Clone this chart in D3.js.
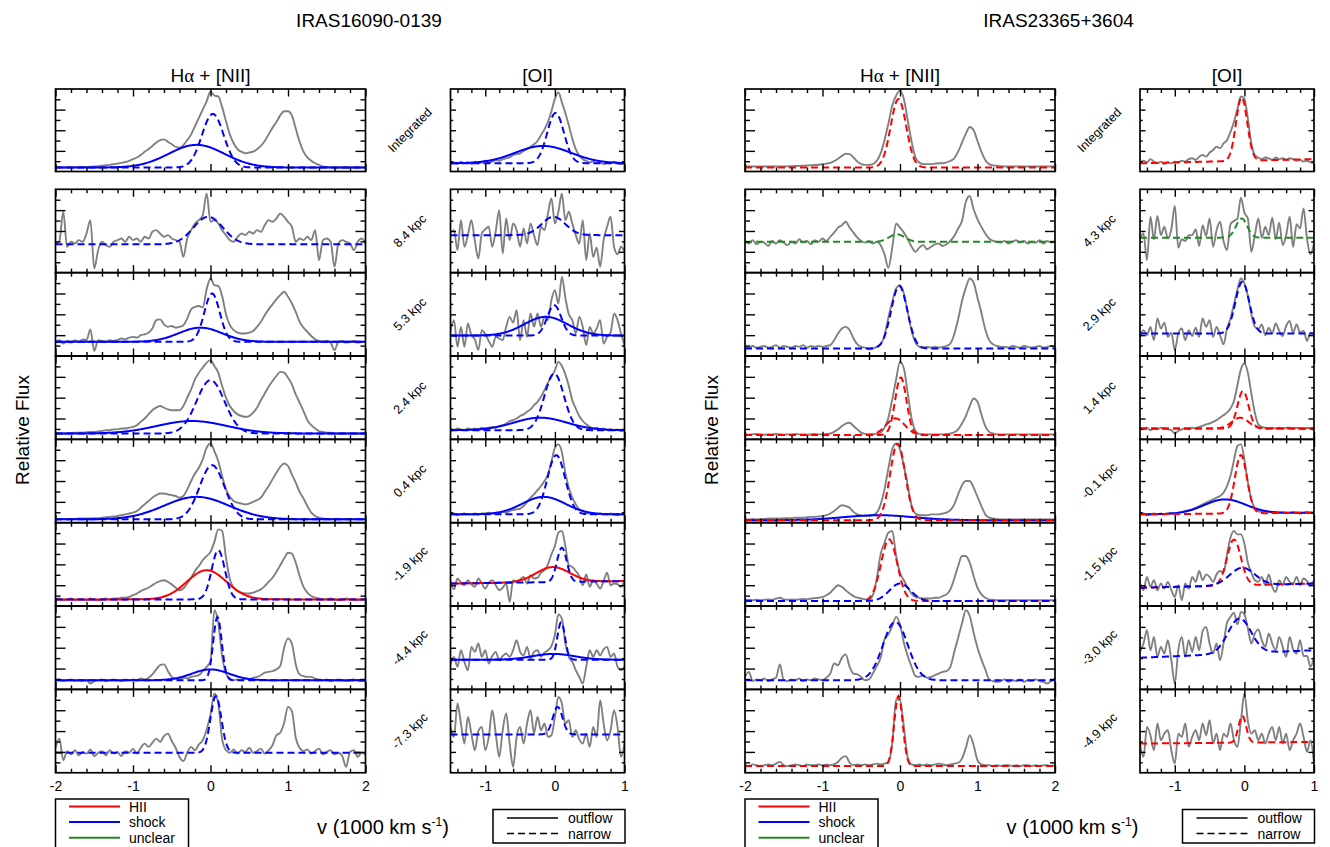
<!DOCTYPE html>
<html>
<head>
<meta charset="utf-8">
<script src="https://cdn.jsdelivr.net/npm/d3@7"></script>
<style>
  body { margin: 0; background: #fff; }
  svg { display: block; }
  text { font-family: "Liberation Sans", Arial, Helvetica, sans-serif; fill: #000; }
</style>
</head>
<body>
<svg id="fig" width="1330" height="847"></svg>
<script>
// ---------------------------------------------------------------------------
// Velocity grids (units of 1000 km/s)
// ---------------------------------------------------------------------------
const velHa = [-2.00,-1.95,-1.90,-1.85,-1.80,-1.75,-1.70,-1.65,-1.60,-1.55,
  -1.50,-1.45,-1.40,-1.35,-1.30,-1.25,-1.20,-1.15,-1.10,-1.05,
  -1.00,-0.95,-0.90,-0.85,-0.80,-0.75,-0.70,-0.65,-0.60,-0.55,
  -0.50,-0.45,-0.40,-0.35,-0.30,-0.25,-0.20,-0.15,-0.10,-0.05,
  0.00,0.05,0.10,0.15,0.20,0.25,0.30,0.35,0.40,0.45,
  0.50,0.55,0.60,0.65,0.70,0.75,0.80,0.85,0.90,0.95,
  1.00,1.05,1.10,1.15,1.20,1.25,1.30,1.35,1.40,1.45,
  1.50,1.55,1.60,1.65,1.70,1.75,1.80,1.85,1.90,1.95,2.00];
const velOI = [-1.50,-1.45,-1.40,-1.35,-1.30,-1.25,-1.20,-1.15,-1.10,-1.05,
  -1.00,-0.95,-0.90,-0.85,-0.80,-0.75,-0.70,-0.65,-0.60,-0.55,
  -0.50,-0.45,-0.40,-0.35,-0.30,-0.25,-0.20,-0.15,-0.10,-0.05,
  0.00,0.05,0.10,0.15,0.20,0.25,0.30,0.35,0.40,0.45,
  0.50,0.55,0.60,0.65,0.70,0.75,0.80,0.85,0.90,0.95,1.00];

// Axis ticks
const haTicks = [-2, -1, 0, 1, 2];
const haMinor = [-1.8,-1.6,-1.4,-1.2,-0.8,-0.6,-0.4,-0.2,0.2,0.4,0.6,0.8,1.2,1.4,1.6,1.8];
const oiTicks = [-1, 0, 1];
const oiMinor = [-1.4,-1.2,-0.8,-0.6,-0.4,-0.2,0.2,0.4,0.6,0.8];
const fluxMajor = [0.25, 0.5, 0.75];
const fluxMinor = [0.125, 0.375, 0.625, 0.875];

// Row labels (projected distance along the slit)
const rowsA = ["Integrated","8.4 kpc","5.3 kpc","2.4 kpc","0.4 kpc","-1.9 kpc","-4.4 kpc","-7.3 kpc"];
const rowsB = ["Integrated","4.3 kpc","2.9 kpc","1.4 kpc","-0.1 kpc","-1.5 kpc","-3.0 kpc","-4.9 kpc"];

// ---------------------------------------------------------------------------
// IRAS16090-0139 : relative flux, Halpha + [NII] window
// ---------------------------------------------------------------------------
const a_ha_int = [.048,.05,.048,.05,.05,.05,.052,.055,.055,.058,
  .06,.065,.07,.075,.08,.09,.095,.105,.115,.13,
  .15,.17,.20,.24,.27,.31,.35,.38,.39,.36,
  .33,.30,.29,.32,.38,.45,.55,.65,.75,.85,
  .97,.92,.91,.78,.61,.45,.34,.27,.24,.22,
  .23,.24,.27,.31,.37,.45,.53,.60,.68,.73,
  .73,.68,.52,.36,.24,.17,.13,.10,.08,.06,
  .055,.05,.05,.048,.048,.048,.048,.048,.048,.048,.048];
const a_ha_84 = [.35,.38,.73,.31,.37,.35,.39,.37,.47,.63,
  .05,.27,.37,.33,.31,.37,.39,.41,.37,.43,
  .39,.41,.37,.43,.41,.49,.51,.47,.43,.45,
  .41,.39,.37,.19,.41,.51,.59,.63,.69,.95,
  .61,.63,.59,.51,.45,.39,.37,.43,.47,.45,
  .49,.47,.51,.49,.57,.63,.61,.65,.71,.67,
  .61,.55,.37,.41,.39,.43,.39,.51,.15,.39,
  .41,.37,.07,.35,.39,.37,.35,.27,.37,.41,.35];
const a_ha_53 = [.17,.19,.15,.18,.16,.19,.17,.20,.19,.32,
  .06,.19,.18,.17,.19,.18,.19,.21,.20,.22,
  .23,.22,.25,.26,.28,.33,.43,.44,.38,.35,
  .36,.34,.35,.37,.45,.56,.59,.60,.58,.80,
  .93,.85,.84,.72,.50,.37,.31,.28,.27,.27,
  .28,.30,.35,.41,.49,.56,.62,.68,.73,.77,
  .71,.63,.53,.41,.34,.29,.24,.20,.18,.17,
  .18,.16,.07,.17,.18,.16,.17,.18,.16,.17,.17];
const a_ha_24 = [.07,.07,.07,.07,.075,.08,.08,.08,.085,.09,
  .09,.095,.10,.11,.11,.12,.12,.13,.13,.14,
  .15,.17,.21,.25,.30,.35,.38,.40,.38,.36,
  .35,.35,.35,.40,.50,.60,.72,.80,.86,.92,
  .95,.88,.80,.64,.50,.40,.34,.30,.28,.27,
  .28,.32,.38,.47,.55,.63,.70,.76,.81,.80,
  .74,.66,.54,.44,.34,.23,.17,.13,.10,.09,
  .08,.08,.07,.07,.07,.07,.07,.07,.07,.07,.07];
const a_ha_04 = [.04,.04,.045,.04,.045,.045,.05,.05,.05,.05,
  .055,.055,.06,.065,.07,.075,.08,.09,.10,.11,
  .12,.14,.18,.22,.26,.30,.33,.35,.35,.34,
  .33,.32,.30,.32,.40,.50,.59,.66,.76,.90,
  .95,.86,.74,.56,.40,.31,.26,.24,.23,.22,
  .23,.25,.27,.30,.37,.44,.52,.60,.67,.71,
  .68,.58,.48,.37,.29,.20,.12,.08,.06,.05,
  .045,.04,.04,.04,.04,.04,.04,.04,.04,.04,.04];
const a_ha_m19 = [.08,.09,.07,.08,.09,.07,.08,.08,.07,.09,
  .08,.07,.08,.09,.08,.09,.09,.10,.10,.11,
  .13,.15,.18,.20,.22,.25,.28,.30,.31,.29,
  .26,.22,.19,.21,.27,.34,.42,.48,.55,.60,
  .65,.77,.92,.90,.58,.32,.22,.18,.16,.15,
  .15,.16,.18,.20,.24,.29,.34,.41,.49,.57,
  .64,.63,.52,.36,.23,.16,.12,.10,.09,.08,
  .08,.09,.08,.07,.08,.09,.08,.08,.07,.08,.08];
const a_ha_m44 = [.11,.12,.10,.11,.12,.10,.11,.10,.11,.07,
  .10,.11,.12,.10,.11,.12,.11,.10,.12,.11,
  .12,.11,.13,.12,.14,.18,.24,.29,.30,.22,
  .15,.13,.12,.14,.13,.15,.16,.17,.22,.27,
  .34,.95,.80,.40,.19,.13,.11,.12,.11,.13,
  .12,.14,.15,.17,.20,.21,.22,.24,.28,.50,
  .61,.55,.30,.18,.16,.15,.15,.13,.12,.11,
  .12,.10,.11,.12,.11,.10,.11,.12,.11,.10,.11];
const a_ha_m73 = [.30,.41,.15,.26,.22,.27,.21,.25,.23,.28,
  .20,.24,.26,.21,.27,.23,.25,.20,.26,.24,
  .29,.23,.30,.35,.31,.36,.41,.37,.44,.47,
  .38,.30,.19,.14,.24,.31,.27,.34,.39,.52,
  .70,.95,.83,.40,.27,.24,.28,.23,.27,.25,
  .30,.24,.26,.29,.23,.27,.33,.45,.48,.60,
  .79,.74,.42,.30,.26,.28,.23,.26,.29,.22,
  .25,.27,.22,.24,.20,.07,.25,.27,.19,.24,.22];

// IRAS16090-0139 : relative flux, [OI] window
const a_oi_int = [.10,.11,.09,.12,.10,.11,.09,.12,.10,.11,
  .13,.11,.12,.14,.13,.15,.16,.17,.20,.21,
  .22,.25,.27,.30,.33,.37,.44,.51,.60,.73,
  .88,.96,.84,.71,.56,.40,.27,.19,.15,.13,
  .11,.12,.10,.11,.09,.11,.10,.12,.10,.09,.10];
const a_oi_84 = [.48,.51,.27,.63,.31,.45,.63,.38,.17,.47,
  .52,.55,.31,.50,.75,.23,.65,.39,.59,.51,
  .31,.53,.35,.59,.45,.33,.55,.51,.71,.89,
  .59,.73,.95,.63,.73,.59,.45,.35,.63,.15,
  .47,.19,.30,.07,.39,.55,.67,.31,.22,.31,.25];
const a_oi_53 = [.30,.43,.11,.35,.11,.39,.25,.20,.07,.31,
  .26,.18,.11,.23,.21,.19,.35,.47,.40,.55,
  .19,.43,.23,.51,.35,.51,.35,.47,.43,.67,
  .79,.63,.95,.70,.50,.43,.27,.47,.35,.13,
  .35,.27,.33,.43,.15,.23,.28,.51,.43,.27,.13];
const a_oi_24 = [.12,.11,.13,.12,.11,.13,.12,.13,.12,.14,
  .13,.14,.15,.14,.16,.17,.19,.22,.23,.25,
  .28,.30,.33,.36,.41,.45,.51,.59,.68,.75,
  .83,.93,.88,.78,.64,.47,.37,.28,.22,.18,
  .15,.13,.14,.12,.13,.11,.12,.11,.12,.10,.11];
const a_oi_04 = [.10,.11,.09,.10,.11,.10,.10,.11,.10,.11,
  .11,.12,.11,.12,.12,.13,.12,.14,.15,.16,
  .17,.20,.25,.30,.34,.39,.44,.50,.58,.73,
  .90,.94,.85,.60,.42,.30,.22,.16,.14,.12,
  .11,.11,.10,.11,.10,.10,.11,.10,.09,.10,.10];
const a_oi_m19 = [.30,.20,.33,.28,.25,.31,.26,.23,.33,.27,
  .21,.28,.31,.25,.19,.22,.27,.05,.31,.29,
  .32,.35,.27,.37,.33,.34,.40,.43,.50,.62,
  .72,.88,.90,.72,.49,.47,.42,.36,.25,.38,
  .23,.31,.27,.21,.30,.40,.25,.27,.26,.23,.31];
const a_oi_m44 = [.30,.39,.27,.47,.33,.23,.51,.45,.55,.39,
  .47,.31,.40,.45,.35,.40,.43,.39,.47,.59,
  .45,.41,.51,.37,.45,.47,.39,.44,.47,.52,
  .65,.90,.85,.55,.39,.33,.23,.15,.07,.27,
  .47,.39,.47,.41,.48,.51,.39,.43,.27,.23,.27];
const a_oi_m73 = [.55,.43,.83,.59,.35,.67,.47,.27,.50,.55,
  .27,.43,.75,.47,.19,.51,.71,.35,.07,.43,
  .55,.35,.59,.75,.47,.67,.51,.59,.43,.45,
  .67,.91,.83,.59,.63,.43,.51,.40,.35,.47,
  .31,.55,.43,.87,.59,.39,.51,.75,.55,.19,.35];

// ---------------------------------------------------------------------------
// IRAS23365+3604 : relative flux, Halpha + [NII] window
// ---------------------------------------------------------------------------
const b_ha_int = [.06,.06,.06,.06,.06,.06,.06,.06,.06,.06,
  .06,.062,.064,.066,.068,.07,.072,.075,.078,.082,
  .088,.095,.105,.125,.155,.19,.215,.21,.17,.12,
  .09,.08,.08,.09,.13,.22,.38,.58,.80,.92,
  .98,.88,.62,.36,.17,.11,.09,.09,.09,.095,
  .10,.10,.11,.13,.16,.24,.35,.46,.54,.50,
  .37,.24,.14,.09,.075,.07,.065,.06,.06,.06,
  .06,.06,.06,.06,.06,.06,.06,.06,.06,.06,.06];
const b_ha_43 = [.37,.35,.39,.34,.37,.36,.32,.38,.35,.39,
  .36,.33,.37,.35,.40,.36,.38,.34,.39,.37,
  .41,.38,.43,.48,.54,.57,.61,.54,.48,.42,
  .38,.36,.38,.35,.37,.33,.22,.06,.30,.59,
  .54,.48,.40,.31,.25,.30,.33,.28,.31,.34,
  .35,.32,.34,.38,.44,.53,.62,.85,.92,.76,
  .64,.55,.47,.41,.38,.37,.36,.38,.35,.37,
  .39,.36,.38,.35,.37,.36,.39,.35,.38,.36,.37];
const b_ha_29 = [.11,.10,.12,.10,.11,.12,.10,.11,.13,.10,
  .12,.11,.10,.12,.11,.13,.10,.12,.11,.12,
  .11,.12,.13,.19,.27,.33,.35,.31,.21,.14,
  .11,.10,.08,.09,.11,.14,.25,.46,.65,.81,
  .85,.75,.53,.30,.16,.11,.10,.11,.10,.11,
  .10,.11,.12,.15,.26,.44,.66,.82,.93,.88,
  .70,.52,.32,.19,.14,.12,.11,.11,.10,.12,
  .11,.10,.12,.11,.10,.11,.12,.10,.11,.12,.11];
const b_ha_14 = [.06,.055,.06,.065,.06,.055,.06,.06,.065,.06,
  .055,.06,.06,.065,.06,.06,.055,.06,.065,.06,
  .06,.065,.07,.09,.12,.16,.19,.20,.16,.12,
  .08,.065,.06,.06,.065,.08,.14,.26,.48,.72,
  .93,.85,.55,.25,.10,.065,.06,.06,.06,.06,
  .06,.06,.065,.07,.085,.12,.19,.28,.40,.49,
  .45,.30,.16,.09,.07,.06,.06,.06,.06,.06,
  .06,.06,.06,.06,.06,.06,.06,.06,.06,.06,.06];
const b_ha_m01 = [.04,.04,.045,.04,.045,.045,.05,.05,.05,.05,
  .055,.055,.055,.06,.06,.06,.065,.07,.07,.075,
  .08,.09,.11,.14,.18,.21,.20,.18,.13,.10,
  .085,.08,.08,.09,.12,.22,.40,.65,.88,.95,
  .88,.68,.45,.20,.11,.09,.09,.09,.10,.10,
  .10,.11,.12,.15,.22,.34,.45,.50,.50,.42,
  .31,.20,.10,.06,.05,.045,.04,.04,.04,.04,
  .04,.04,.04,.04,.04,.04,.04,.04,.04,.04,.04];
const b_ha_m15 = [.07,.075,.07,.075,.07,.075,.08,.075,.09,.10,
  .08,.075,.08,.075,.08,.085,.08,.09,.095,.10,
  .11,.13,.16,.21,.25,.23,.19,.15,.12,.10,
  .09,.08,.075,.13,.33,.62,.76,.88,.90,.60,
  .40,.31,.22,.15,.11,.10,.09,.09,.09,.10,
  .10,.12,.14,.20,.33,.48,.60,.60,.52,.36,
  .22,.14,.10,.08,.075,.07,.07,.07,.07,.07,
  .07,.07,.07,.07,.07,.07,.07,.07,.07,.07,.07];
const b_ha_m30 = [.15,.21,.10,.12,.11,.13,.10,.12,.14,.30,
  .11,.10,.12,.11,.13,.10,.12,.11,.13,.12,
  .11,.14,.19,.31,.29,.38,.42,.27,.19,.18,
  .15,.11,.12,.19,.28,.38,.60,.66,.76,.87,
  .78,.56,.40,.27,.16,.15,.17,.14,.15,.17,
  .19,.21,.22,.27,.45,.62,.79,.95,.88,.68,
  .50,.36,.24,.12,.10,.09,.10,.12,.09,.11,
  .10,.12,.09,.11,.10,.12,.10,.09,.07,.10,.13];
const b_ha_m49 = [.09,.08,.10,.09,.08,.09,.10,.09,.11,.13,
  .09,.08,.09,.10,.09,.08,.10,.09,.09,.10,
  .09,.10,.09,.10,.13,.18,.20,.12,.09,.10,
  .09,.10,.09,.10,.11,.10,.11,.13,.35,.88,
  .87,.55,.18,.10,.09,.10,.09,.10,.09,.10,
  .11,.10,.09,.10,.11,.12,.17,.30,.45,.33,
  .15,.10,.09,.09,.08,.09,.08,.09,.09,.08,
  .09,.08,.09,.09,.08,.09,.08,.09,.09,.08,.09];

// IRAS23365+3604 : relative flux, [OI] window
const b_oi_int = [.10,.13,.11,.15,.12,.10,.12,.09,.11,.10,
  .12,.11,.13,.12,.15,.16,.14,.18,.20,.18,
  .23,.26,.30,.28,.34,.38,.48,.60,.76,.91,
  .88,.64,.34,.20,.17,.15,.17,.16,.14,.17,
  .15,.16,.14,.16,.15,.13,.14,.12,.13,.11,.10];
const b_oi_43 = [.40,.47,.15,.67,.40,.68,.45,.55,.41,.52,
  .80,.30,.40,.38,.45,.45,.52,.32,.57,.44,
  .65,.31,.51,.61,.38,.27,.58,.62,.65,.90,
  .72,.65,.25,.45,.65,.42,.55,.45,.66,.40,
  .60,.33,.45,.67,.31,.58,.53,.77,.40,.22,.35];
const b_oi_29 = [.22,.31,.25,.35,.19,.45,.33,.40,.23,.28,
  .07,.27,.33,.19,.31,.24,.34,.23,.45,.35,
  .43,.23,.35,.25,.14,.33,.45,.62,.80,.93,
  .87,.72,.50,.35,.32,.38,.25,.34,.27,.39,
  .30,.24,.36,.42,.28,.38,.28,.30,.18,.28,.27];
const b_oi_14 = [.13,.12,.14,.11,.13,.12,.14,.13,.12,.11,
  .07,.10,.12,.13,.12,.14,.13,.15,.16,.18,
  .19,.21,.23,.26,.29,.32,.37,.46,.65,.84,
  .91,.80,.55,.32,.18,.15,.14,.13,.14,.13,
  .14,.13,.14,.14,.13,.14,.13,.12,.14,.13,.14];
const b_oi_m01 = [.10,.11,.09,.10,.11,.10,.11,.10,.11,.12,
  .11,.12,.13,.14,.15,.16,.18,.20,.22,.24,
  .26,.28,.30,.32,.36,.44,.56,.75,.92,.94,
  .76,.48,.28,.17,.14,.13,.14,.13,.12,.13,
  .12,.13,.12,.12,.13,.12,.11,.12,.13,.12,.12];
const b_oi_m15 = [.28,.19,.35,.23,.31,.19,.27,.21,.29,.19,
  .11,.25,.07,.27,.21,.35,.29,.42,.31,.38,
  .35,.29,.38,.42,.40,.62,.82,.90,.86,.86,
  .75,.52,.40,.31,.29,.35,.25,.38,.23,.17,
  .31,.25,.35,.29,.27,.35,.25,.33,.30,.25,.31];
const b_oi_m30 = [.45,.55,.71,.47,.63,.39,.51,.43,.59,.35,
  .07,.47,.63,.39,.59,.45,.63,.47,.70,.75,
  .55,.43,.55,.35,.55,.80,.87,.92,.78,.93,
  .90,.73,.55,.67,.72,.59,.51,.67,.55,.47,
  .63,.51,.39,.63,.48,.43,.59,.40,.40,.27,.39];
const b_oi_m49 = [.35,.19,.55,.45,.27,.59,.39,.47,.51,.27,
  .11,.47,.43,.59,.31,.43,.51,.39,.59,.45,
  .63,.35,.47,.27,.47,.43,.59,.39,.31,.62,
  .95,.62,.47,.51,.39,.47,.35,.47,.55,.39,
  .55,.35,.47,.27,.39,.47,.59,.43,.25,.39,.11];

// ---------------------------------------------------------------------------
// Gaussian fit components:
// [excitation class, component, continuum at left edge, continuum at right edge,
//  amplitude, centre (1000 km/s), sigma (1000 km/s)]
// ---------------------------------------------------------------------------
const fa_ha_int = [["shock","outflow",.048,.048,.275,-.18,.36],["shock","narrow",.048,.048,.65,.03,.14]];
const fa_ha_84  = [["shock","narrow",.34,.34,.33,-.03,.19]];
const fa_ha_53  = [["shock","outflow",.17,.17,.17,-.13,.28],["shock","narrow",.17,.17,.58,.02,.10]];
const fa_ha_24  = [["shock","outflow",.07,.07,.15,-.24,.45],["shock","narrow",.07,.07,.64,0,.18]];
const fa_ha_04  = [["shock","outflow",.04,.04,.27,-.18,.42],["shock","narrow",.04,.04,.65,.02,.16]];
const fa_ha_m19 = [["HII","outflow",.08,.08,.35,-.05,.255],["shock","narrow",.08,.08,.59,.10,.085]];
const fa_ha_m44 = [["shock","outflow",.11,.11,.13,0,.24],["shock","narrow",.11,.11,.76,.09,.055]];
const fa_ha_m73 = [["shock","narrow",.24,.24,.68,.07,.07]];

const fa_oi_int = [["shock","outflow",.10,.10,.21,-.17,.40],["shock","narrow",.10,.10,.61,.01,.12]];
const fa_oi_84  = [["shock","narrow",.45,.45,.22,-.02,.17]];
const fa_oi_53  = [["shock","outflow",.245,.245,.225,-.13,.31],["shock","narrow",.245,.245,.365,-.01,.10]];
const fa_oi_24  = [["shock","outflow",.11,.11,.15,-.21,.38],["shock","narrow",.11,.11,.68,-.01,.14]];
const fa_oi_04  = [["shock","outflow",.10,.10,.21,-.16,.31],["shock","narrow",.10,.10,.71,.02,.128]];
const fa_oi_m19 = [["HII","outflow",.27,.30,.18,-.03,.24],["shock","narrow",.27,.30,.41,.10,.07]];
const fa_oi_m44 = [["shock","outflow",.356,.356,.07,-.02,.30],["shock","narrow",.356,.356,.45,.09,.055]];
const fa_oi_m73 = [["shock","narrow",.46,.46,.33,.04,.07]];

const fb_ha_int = [["HII","narrow",.048,.048,.83,-.02,.10]];
const fb_ha_43  = [["unclear","narrow",.37,.37,.09,-.04,.10]];
const fb_ha_29  = [["shock","narrow",.09,.09,.75,-.01,.105]];
const fb_ha_14  = [["HII","narrow",.052,.052,.69,.01,.073],["HII","narrow",.052,.052,.20,-.06,.12]];
const fb_ha_m01 = [["shock","outflow",.03,.03,.06,-.28,.45],["HII","narrow",.03,.03,.92,-.03,.097]];
const fb_ha_m15 = [["HII","narrow",.06,.06,.74,-.14,.105],["shock","narrow",.06,.06,.21,0,.135]];
const fb_ha_m30 = [["shock","narrow",.11,.11,.70,-.06,.16]];
const fb_ha_m49 = [["HII","narrow",.08,.08,.84,-.02,.055]];

const fb_oi_int = [["HII","narrow",.10,.15,.77,-.04,.08]];
const fb_oi_43  = [["unclear","narrow",.42,.42,.23,-.04,.08]];
const fb_oi_29  = [["shock","narrow",.27,.27,.62,-.03,.10]];
const fb_oi_14  = [["HII","narrow",.13,.13,.45,-.02,.08],["HII","narrow",.13,.13,.13,-.06,.12]];
const fb_oi_m01 = [["shock","outflow",.10,.12,.17,-.28,.30],["HII","narrow",.10,.12,.70,-.05,.087]];
const fb_oi_m15 = [["HII","narrow",.22,.27,.55,-.15,.10],["shock","narrow",.22,.27,.21,-.03,.18]];
const fb_oi_m30 = [["shock","narrow",.38,.47,.42,-.07,.165]];
const fb_oi_m49 = [["HII","narrow",.35,.37,.32,-.03,.055]];

// ---------------------------------------------------------------------------
// Figure assembly
// ---------------------------------------------------------------------------
const galaxies = [
  { name: "IRAS16090-0139", rows: rowsA,
    ha: [a_ha_int,a_ha_84,a_ha_53,a_ha_24,a_ha_04,a_ha_m19,a_ha_m44,a_ha_m73],
    oi: [a_oi_int,a_oi_84,a_oi_53,a_oi_24,a_oi_04,a_oi_m19,a_oi_m44,a_oi_m73],
    haFit: [fa_ha_int,fa_ha_84,fa_ha_53,fa_ha_24,fa_ha_04,fa_ha_m19,fa_ha_m44,fa_ha_m73],
    oiFit: [fa_oi_int,fa_oi_84,fa_oi_53,fa_oi_24,fa_oi_04,fa_oi_m19,fa_oi_m44,fa_oi_m73] },
  { name: "IRAS23365+3604", rows: rowsB,
    ha: [b_ha_int,b_ha_43,b_ha_29,b_ha_14,b_ha_m01,b_ha_m15,b_ha_m30,b_ha_m49],
    oi: [b_oi_int,b_oi_43,b_oi_29,b_oi_14,b_oi_m01,b_oi_m15,b_oi_m30,b_oi_m49],
    haFit: [fb_ha_int,fb_ha_43,fb_ha_29,fb_ha_14,fb_ha_m01,fb_ha_m15,fb_ha_m30,fb_ha_m49],
    oiFit: [fb_oi_int,fb_oi_43,fb_oi_29,fb_oi_14,fb_oi_m01,fb_oi_m15,fb_oi_m30,fb_oi_m49] }
];

const classColor = { HII: "#ff0000", shock: "#0000ff", unclear: "#228b22" };
const legendClasses = ["HII", "shock", "unclear"];
const legendKinds = ["outflow", "narrow"];

const L = {
  blockDx: 689.5,
  ha: [55.5, 365.5],
  oi: [450.5, 624.5],
  intTop: 89, intBot: 171.5,
  stackTop: 189.3, rowH: 83.35,
  labelX: 410
};

const svg = d3.select("#fig");
const fmtTick = d => (d < 0 ? "-" : "") + Math.abs(d);
let clipCount = 0;

function rowSpan(i) {
  if (i === 0) return [L.intTop, L.intBot];
  const t = L.stackTop + (i - 1) * L.rowH;
  return [t, t + L.rowH];
}

function drawAxis(g, axis, tx, ty) {
  const a = g.append("g").attr("transform", `translate(${tx},${ty})`).call(axis);
  a.select(".domain").remove();
  a.selectAll("line").attr("stroke", "#000").attr("stroke-width", 1.4);
  return a;
}

function drawPanel(g, xr, yr, domain, vel, flux, comps, major, minor, showLabels) {
  const x = d3.scaleLinear().domain(domain).range(xr);
  const y = d3.scaleLinear().domain([0, 1]).range([yr[1], yr[0]]);
  const w = xr[1] - xr[0], h = yr[1] - yr[0];

  const id = "clip" + (clipCount++);
  g.append("clipPath").attr("id", id).append("rect")
    .attr("x", xr[0]).attr("y", yr[0]).attr("width", w).attr("height", h);
  const body = g.append("g").attr("clip-path", `url(#${id})`);

  // observed spectrum
  body.append("path")
    .datum(d3.zip(vel, flux))
    .attr("fill", "none").attr("stroke", "#808080").attr("stroke-width", 1.9)
    .attr("stroke-linejoin", "round")
    .attr("d", d3.line().x(d => x(d[0])).y(d => y(d[1])).curve(d3.curveMonotoneX));

  // fitted Gaussian components (outflows beneath, narrow components on top)
  const ordered = comps.slice().sort((a, b) => (a[1] === "outflow" ? 0 : 1) - (b[1] === "outflow" ? 0 : 1));
  const nFine = 400;
  const vFine = d3.range(nFine + 1).map(i => domain[0] + (domain[1] - domain[0]) * i / nFine);
  ordered.forEach(c => {
    const [cls, kind, b0, b1, amp, mu, sig] = c;
    const model = v => b0 + (b1 - b0) * (v - domain[0]) / (domain[1] - domain[0]) +
      amp * Math.exp(-0.5 * ((v - mu) / sig) ** 2);
    body.append("path")
      .datum(vFine)
      .attr("fill", "none").attr("stroke", classColor[cls]).attr("stroke-width", 2)
      .attr("stroke-dasharray", kind === "narrow" ? "7,4" : null)
      .attr("d", d3.line().x(v => x(v)).y(v => y(model(v))));
  });

  // ticks pointing inward on all four sides
  const yMaj = w > 250 ? 10 : 5.5, yMin = yMaj / 2;
  drawAxis(g, d3.axisBottom(x).tickValues(minor).tickSize(-4).tickFormat(""), 0, yr[1]);
  const bot = drawAxis(g, d3.axisBottom(x).tickValues(major).tickSize(-7.5).tickPadding(8)
    .tickFormat(showLabels ? fmtTick : ""), 0, yr[1]);
  bot.attr("font-size", 14).attr("font-family", null);
  drawAxis(g, d3.axisTop(x).tickValues(minor).tickSize(-4).tickFormat(""), 0, yr[0]);
  drawAxis(g, d3.axisTop(x).tickValues(major).tickSize(-7.5).tickFormat(""), 0, yr[0]);
  drawAxis(g, d3.axisLeft(y).tickValues(fluxMinor).tickSize(-yMin).tickFormat(""), xr[0], 0);
  drawAxis(g, d3.axisLeft(y).tickValues(fluxMajor).tickSize(-yMaj).tickFormat(""), xr[0], 0);
  drawAxis(g, d3.axisRight(y).tickValues(fluxMinor).tickSize(-yMin).tickFormat(""), xr[1], 0);
  drawAxis(g, d3.axisRight(y).tickValues(fluxMajor).tickSize(-yMaj).tickFormat(""), xr[1], 0);

  g.append("rect").attr("x", xr[0]).attr("y", yr[0]).attr("width", w).attr("height", h)
    .attr("fill", "none").attr("stroke", "#000").attr("stroke-width", 1.7);
}

galaxies.forEach((gal, gi) => {
  const dx = gi * L.blockDx;
  const g = svg.append("g");
  const haX = [L.ha[0] + dx, L.ha[1] + dx];
  const oiX = [L.oi[0] + dx, L.oi[1] + dx];

  // object name
  g.append("text").attr("x", 369 + dx).attr("y", 27)
    .attr("text-anchor", "middle").attr("font-size", 19).text(gal.name);

  // window titles
  const haTitle = g.append("text").attr("x", (haX[0] + haX[1]) / 2).attr("y", 82)
    .attr("text-anchor", "middle").attr("font-size", 19);
  haTitle.append("tspan").text("H");
  haTitle.append("tspan").attr("font-family", "'Liberation Serif', 'DejaVu Serif', serif").text("α");
  haTitle.append("tspan").text(" + [NII]");
  g.append("text").attr("x", (oiX[0] + oiX[1]) / 2).attr("y", 82)
    .attr("text-anchor", "middle").attr("font-size", 19).text("[OI]");

  gal.rows.forEach((label, i) => {
    const yr = rowSpan(i);
    const last = i === gal.rows.length - 1;
    drawPanel(g, haX, yr, [-2, 2], velHa, gal.ha[i], gal.haFit[i], haTicks, haMinor, last);
    drawPanel(g, oiX, yr, [-1.5, 1], velOI, gal.oi[i], gal.oiFit[i], oiTicks, oiMinor, last);
    g.append("text")
      .attr("transform", `translate(${L.labelX + dx},${(yr[0] + yr[1]) / 2}) rotate(-45)`)
      .attr("text-anchor", "middle").attr("dominant-baseline", "central")
      .attr("font-size", 12.5).text(label);
  });

  // y-axis title
  g.append("text").attr("transform", `translate(${22 + dx},430) rotate(-90)`)
    .attr("text-anchor", "middle").attr("dominant-baseline", "central")
    .attr("font-size", 19).text("Relative Flux");

  // x-axis title
  const xt = g.append("text").attr("x", 383 + dx).attr("y", 834)
    .attr("text-anchor", "middle").attr("font-size", 20);
  xt.append("tspan").text("v (1000 km s");
  xt.append("tspan").attr("font-size", 12).attr("dy", -8).text("-1");
  xt.append("tspan").attr("dy", 8).text(")");

  // legend: excitation class
  const lg = g.append("g");
  lg.append("rect").attr("x", 55.5 + dx).attr("y", 799).attr("width", 133).attr("height", 60)
    .attr("fill", "#fff").attr("stroke", "#000").attr("stroke-width", 1.5);
  legendClasses.forEach((c, k) => {
    const yy = 806.5 + k * 15.6;
    lg.append("line").attr("x1", 69 + dx).attr("x2", 120 + dx).attr("y1", yy).attr("y2", yy)
      .attr("stroke", classColor[c]).attr("stroke-width", 2);
    lg.append("text").attr("x", 129 + dx).attr("y", yy + 5).attr("font-size", 14).text(c);
  });

  // legend: component type
  const lk = g.append("g");
  lk.append("rect").attr("x", 493 + dx).attr("y", 809.5).attr("width", 132).attr("height", 33.5)
    .attr("fill", "#fff").attr("stroke", "#000").attr("stroke-width", 1.5);
  legendKinds.forEach((kname, k) => {
    const yy = 818 + k * 15.6;
    lk.append("line").attr("x1", 507 + dx).attr("x2", 558 + dx).attr("y1", yy).attr("y2", yy)
      .attr("stroke", "#000").attr("stroke-width", 1.5)
      .attr("stroke-dasharray", kname === "narrow" ? "7,4" : null);
    lk.append("text").attr("x", 568 + dx).attr("y", yy + 5).attr("font-size", 14).text(kname);
  });
});
</script>
</body>
</html>
